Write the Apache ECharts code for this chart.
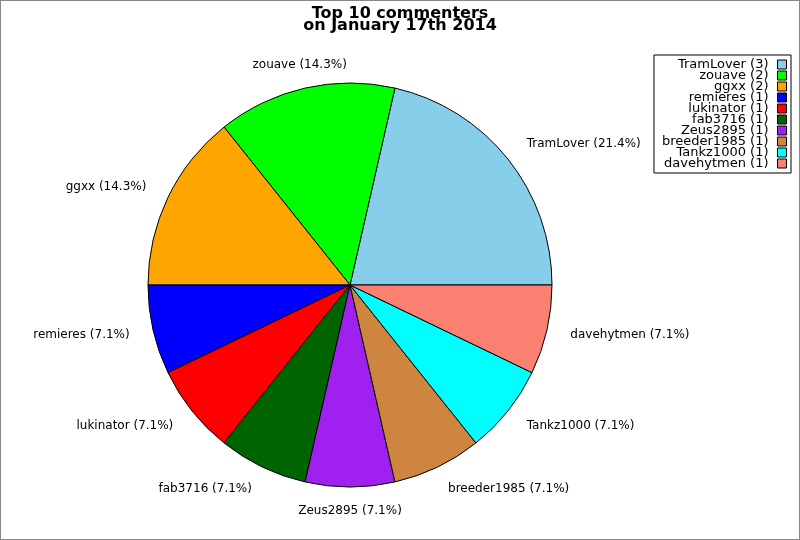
<!DOCTYPE html>
<html><head><meta charset="utf-8">
<script src="https://cdn.jsdelivr.net/npm/echarts@6/dist/echarts.min.js"></script>
<style>
html,body{margin:0;padding:0;background:#fff;}
#c{position:absolute;left:0;top:0;width:800px;height:540px;}
#frame{position:absolute;left:0;top:0;width:800px;height:540px;box-sizing:border-box;border:1px solid #888;pointer-events:none;}
</style></head>
<body>
<div id="c"></div><div id="frame"></div>
<script>
const names = ['TramLover','zouave','ggxx','remieres','lukinator','fab3716','Zeus2895','breeder1985','Tankz1000','davehytmen'];
const counts = [3,2,2,1,1,1,1,1,1,1];
const colors = ['#87CEEB','#00FF00','#FFA500','#0000FF','#FF0000','#006400','#A020F0','#CD853F','#00FFFF','#FA8072'];
const centeredLabels = ['zouave','Zeus2895'];
const total = counts.reduce((a,b)=>a+b,0);

const chart = echarts.init(document.getElementById('c'), null, {renderer:'canvas'});
const data = names.map((n,i)=>({name:n, value:counts[i], itemStyle:{color:colors[i]}}));
chart.setOption({
  backgroundColor:'#fff',
  animation:false,
  title:{
    text:'Top 10 commenters\non January 17th 2014',
    left:'center', top:3,
    textStyle:{fontFamily:'DejaVu Sans', fontWeight:'bold', fontSize:16, lineHeight:12, color:'#000'}
  },
  legend:{
    orient:'vertical', right:9, top:55, align:'right',
    itemWidth:9, itemHeight:9, itemGap:-2,
    padding:[3,4,3,8],
    borderColor:'#000', borderWidth:1, backgroundColor:'#fff',
    icon:'rect',
    itemStyle:{borderColor:'#000', borderWidth:1},
    textStyle:{fontFamily:'DejaVu Sans', fontSize:13, lineHeight:11, color:'#000', padding:[0,4,0,0]},
    formatter: n => n + ' (' + counts[names.indexOf(n)] + ')',
    data: names
  },
  series:[{
    type:'pie',
    center:[350,285], radius:202,
    startAngle:0, clockwise:false,
    avoidLabelOverlap:false,
    itemStyle:{borderColor:'#000', borderWidth:1},
    emphasis:{disabled:true},
    label:{show:true, position:'outside',
      formatter: p => p.name + ' (' + (p.value/total*100).toFixed(1) + '%)',
      fontFamily:'DejaVu Sans', fontSize:12, color:'#000', distanceToLabelLine:0},
    labelLine:{show:false, length:24, length2:0},
    labelLayout: p => centeredLabels.includes(names[p.dataIndex]) ? {align:'center'} : {},
    data:data
  }]
});
</script>
</body></html>
